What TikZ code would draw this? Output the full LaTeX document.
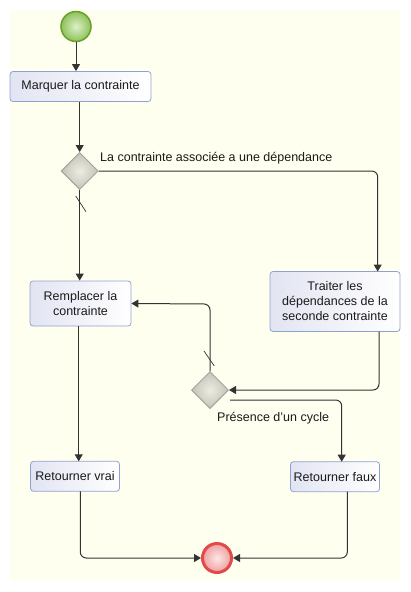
\documentclass[tikz,border=0pt]{standalone}
\usepackage{fontspec}
\setmainfont{Liberation Sans}
\usetikzlibrary{shapes.geometric,arrows.meta,calc}
\definecolor{bgc}{HTML}{FFFFF0}
\definecolor{boxL}{HTML}{E2E4F2}
\definecolor{boxB}{HTML}{8EA2D2}
\definecolor{lnc}{HTML}{333333}
\definecolor{txc}{HTML}{1A1A1A}
\definecolor{dmB}{HTML}{A4A49C}
\definecolor{dmIn}{HTML}{ECECE2}
\definecolor{dmOut}{HTML}{C4C4B8}
\definecolor{stB}{HTML}{6C9E2C}
\definecolor{stIn}{HTML}{DDF0C8}
\definecolor{stOut}{HTML}{8CC25A}
\definecolor{enB}{HTML}{E24A4A}
\definecolor{enIn}{HTML}{FDE6E6}
\definecolor{enOut}{HTML}{EEA0A0}
\begin{document}
\begin{tikzpicture}[x=1pt,y=-1pt,
  every node/.style={font=\fontsize{12.5}{15}\selectfont, text=txc},
  actbox/.style={draw=boxB, line width=0.8pt, rounded corners=3pt, left color=boxL, right color=white, inner sep=0pt, align=center},
  gate/.style={diamond, draw=dmB, line width=1pt, inner color=dmIn, outer color=dmOut, minimum width=37pt, minimum height=37pt, inner sep=0pt},
  flow/.style={draw=lnc, line width=1pt, rounded corners=6pt, -{Triangle[width=8pt,length=7pt]}},
  tick/.style={draw=lnc, line width=0.7pt}
]
\useasboundingbox (0,0) rectangle (411,592);
\fill[white] (0,0) rectangle (411,592);
\fill[bgc] (10,10) rectangle (400,580);

% start / end
\node[circle, draw=stB, line width=1.5pt, inner color=stIn, outer color=stOut, minimum size=30pt, inner sep=0pt] (start) at (76,26.5) {};
\node[circle, draw=enB, line width=3pt, inner color=enIn, outer color=enOut, minimum size=29pt, inner sep=0pt] (end) at (217,558) {};

% activities
\node[actbox, minimum width=141pt, minimum height=30pt] (marq) at (80.5,86.5) {Marquer la contrainte};
\node[actbox, minimum width=130pt, minimum height=60pt] (trait) at (335,301.5) {Traiter les\\dépendances de la\\seconde contrainte};
\node[actbox, minimum width=101pt, minimum height=45pt] (rempl) at (80.5,303.5) {Remplacer la\\contrainte};
\node[actbox, minimum width=89pt, minimum height=30pt] (vrai) at (75,476.3) {Retourner vrai};
\node[actbox, minimum width=89pt, minimum height=30pt] (faux) at (335,476.7) {Retourner faux};

% gateways
\node[gate] (g1) at (79.7,171) {};
\node[gate] (g2) at (210,390) {};

% labels
\node[anchor=west, inner sep=0pt] (l1) at (100,158) {La contrainte associée a une dépendance};
\node[anchor=west, inner sep=0pt] (l2) at (217,418) {Présence d'un cycle};

% helper coordinates
\coordinate (c1) at (377.7,171);
\coordinate (t1) at (377.7,271.5);
\coordinate (ts) at (379,331.5);
\coordinate (c2) at (379,390);
\coordinate (c3) at (210,304);
\coordinate (g2o) at (230,400);
\coordinate (c4) at (341.7,400);
\coordinate (f1) at (341.7,461.7);
\coordinate (rs) at (78.7,326);
\coordinate (vt) at (78.7,461.3);
\coordinate (vb) at (80.3,491.3);
\coordinate (vc) at (80.3,558);
\coordinate (fb) at (347.3,491.7);
\coordinate (fc) at (347.3,558);

% connectors
\draw[flow] (start.south) -- (start.south |- marq.north);
\draw[flow] (marq.south -| g1.north) -- (g1.north);
\draw[flow] (g1.east) -- (c1) -- (t1);
\draw[flow] (g1.south) -- (g1.south |- rempl.north);
\draw[tick] (75.7,196) -- (86,211.7);
\draw[flow] (ts) -- (c2) -- (g2.east);
\draw[flow] (g2.north) -- (c3) -- (rempl.east);
\draw[tick] (204,351) -- (214.3,366);
\draw[flow] (g2o) -- (c4) -- (f1);
\draw[flow] (rs) -- (vt);
\draw[flow] (vb) -- (vc) -- (end.west);
\draw[flow] (fb) -- (fc) -- (end.east);
\end{tikzpicture}
\end{document}
